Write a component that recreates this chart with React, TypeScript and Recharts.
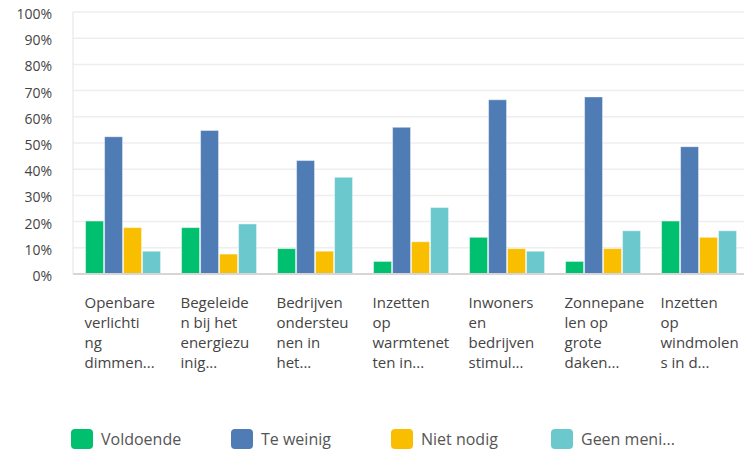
import { BarChart, Bar, XAxis, YAxis, CartesianGrid, Legend } from 'recharts';

const categories = [
  ['Openbare', 'verlichti', 'ng', 'dimmen...'],
  ['Begeleide', 'n bij het', 'energiezu', 'inig...'],
  ['Bedrijven', 'ondersteu', 'nen in', 'het...'],
  ['Inzetten', 'op', 'warmtenet', 'ten in...'],
  ['Inwoners', 'en', 'bedrijven', 'stimul...'],
  ['Zonnepane', 'len op', 'grote', 'daken...'],
  ['Inzetten', 'op', 'windmolen', 's in d...'],
];

const voldoende = [20.2, 17.7, 9.7, 4.8, 14.0, 4.8, 20.2];
const teWeinig = [52.4, 54.8, 43.3, 56.0, 66.5, 67.6, 48.6];
const nietNodig = [17.7, 7.6, 8.7, 12.3, 9.7, 9.7, 14.0];
const geenMening = [8.7, 19.1, 36.9, 25.4, 8.7, 16.5, 16.5];

const yTicks = [0, 10, 20, 30, 40, 50, 60, 70, 80, 90, 100];

const series = [
  { key: 'voldoende', name: 'Voldoende', color: '#00bf6f' },
  { key: 'teWeinig', name: 'Te weinig', color: '#507cb6' },
  { key: 'nietNodig', name: 'Niet nodig', color: '#f9be00' },
  { key: 'geenMening', name: 'Geen meni...', color: '#6bc8cd' },
];

const data = categories.map((lines, i) => ({
  id: String(i),
  lines,
  voldoende: voldoende[i],
  teWeinig: teWeinig[i],
  nietNodig: nietNodig[i],
  geenMening: geenMening[i],
}));

const FONT = '"Open Sans", sans-serif';

function CategoryTick({ x, y, payload }: any) {
  const lines = categories[Number(payload.value)] || [];
  return (
    <g>
      {lines.map((line, i) => (
        <text
          key={i}
          x={x - 38.5}
          y={y + 34 + i * 20}
          textAnchor="start"
          fontFamily={FONT}
          fontSize={15}
          fill="#444"
        >
          {line}
        </text>
      ))}
    </g>
  );
}

function LegendContent() {
  return (
    <div style={{ display: 'flex', height: 24, paddingLeft: 71, alignItems: 'center' }}>
      {series.map((s) => (
        <div key={s.key} style={{ display: 'flex', alignItems: 'center', width: 160 }}>
          <span
            style={{
              display: 'inline-block',
              width: 22,
              height: 20,
              borderRadius: 4,
              background: s.color,
              marginRight: 8,
            }}
          />
          <span style={{ fontFamily: FONT, fontSize: 16, color: '#555', whiteSpace: 'nowrap' }}>
            {s.name}
          </span>
        </div>
      ))}
    </div>
  );
}

export default function App() {
  return (
    <div
      style={{
        position: 'absolute',
        left: 0,
        top: 0,
        width: 744,
        height: 453,
        overflow: 'hidden',
        background: '#fff',
      }}
    >
      <BarChart
        width={747}
        height={453}
        data={data}
        margin={{ top: 12, right: 0, bottom: 0, left: 0 }}
        barCategoryGap="11%"
        barGap={1}
      >
        <CartesianGrid vertical={false} stroke="#eeeeee" strokeWidth={1.5} />
        <XAxis
          dataKey="id"
          interval={0}
          height={155}
          tickSize={0}
          tickMargin={0}
          padding={{ left: 2, right: 0 }}
          stroke="#d6d6d6"
          strokeWidth={2}
          tick={<CategoryTick />}
        />
        <YAxis
          width={73}
          domain={[0, 100]}
          ticks={yTicks}
          interval={0}
          tickSize={0}
          tickMargin={21}
          stroke="#e3e3e3"
          tickFormatter={(v) => `${v}%`}
          tick={{ fontFamily: FONT, fontSize: 14, fill: '#444', dy: 2 }}
        />
        <Legend
          verticalAlign="bottom"
          content={<LegendContent />}
          wrapperStyle={{ left: 0, top: 427, width: 747, height: 24 }}
        />
        {series.map((s) => (
          <Bar
            key={s.key}
            dataKey={s.key}
            name={s.name}
            fill={s.color}
            stroke="rgba(255,255,255,0.45)"
            strokeWidth={1}
            isAnimationActive={false}
          />
        ))}
      </BarChart>
    </div>
  );
}
